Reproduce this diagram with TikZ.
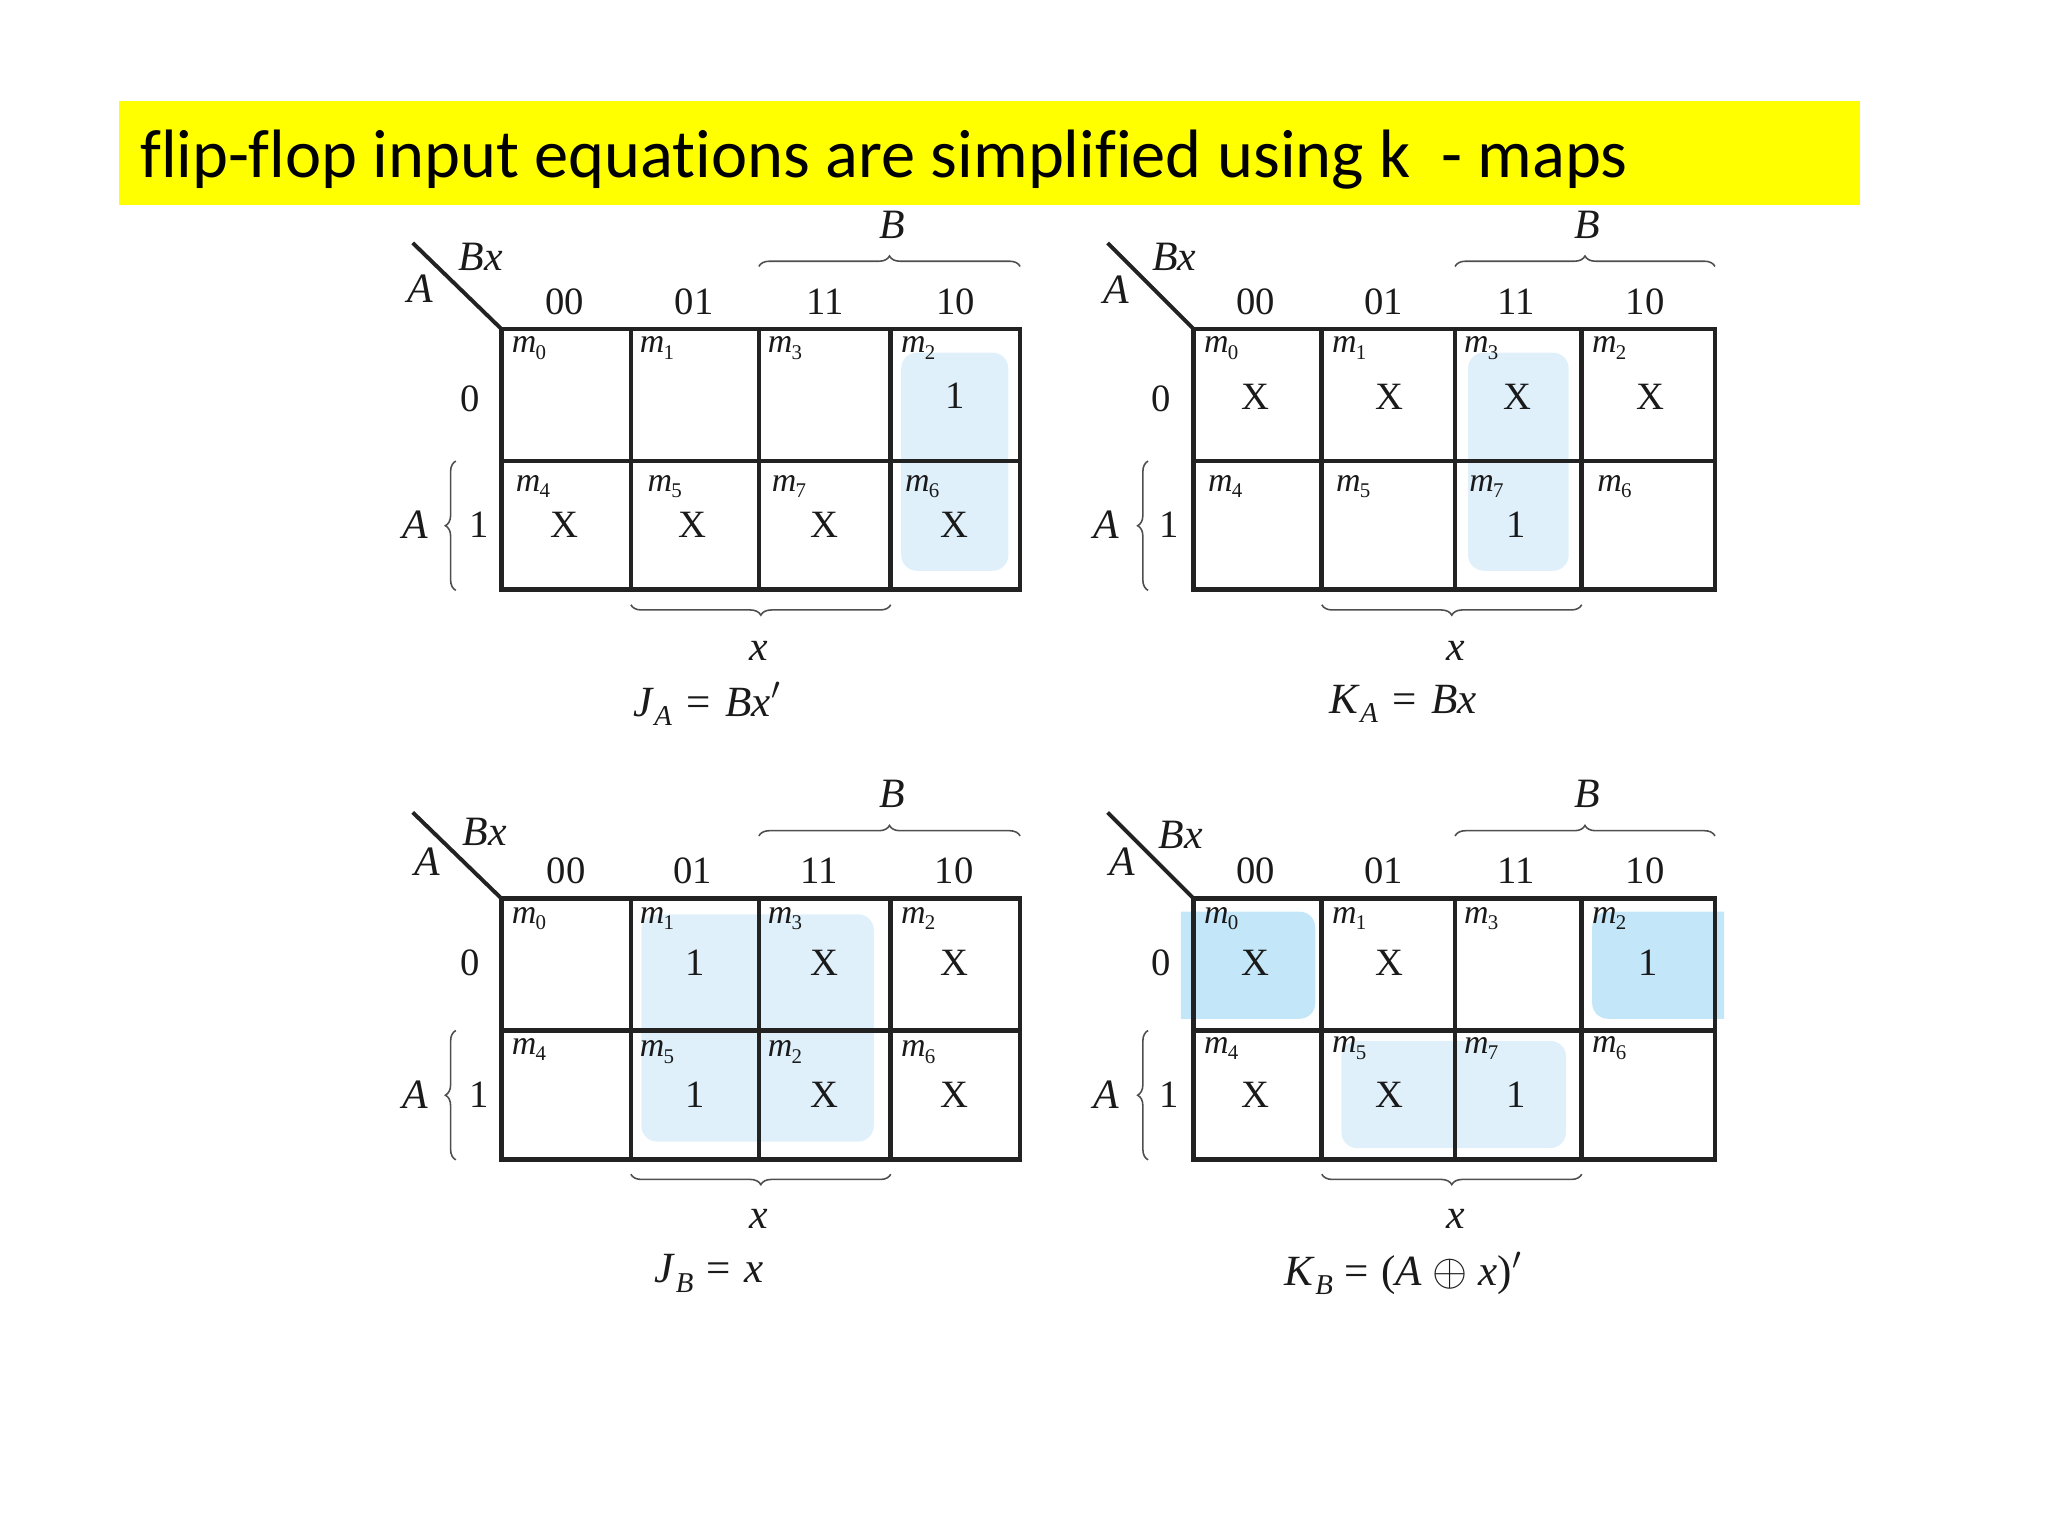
\documentclass[tikz,border=0pt]{standalone}
\usepackage{fontspec}
\setmainfont{Liberation Serif}
\newfontfamily\titlefont[Ligatures=NoCommon]{Carlito}
\usetikzlibrary{decorations.pathreplacing}
\definecolor{hlLight}{HTML}{DFF0FB}
\definecolor{hlDark}{HTML}{C3E7F9}
\definecolor{gridInk}{HTML}{222222}
\definecolor{textInk}{HTML}{1A1A1A}
\definecolor{barYellow}{HTML}{FFFF00}
\newcommand{\emm}[1]{{\itshape m}\kern-0.3pt\raisebox{-2.4pt}{\fontsize{8}{8}\selectfont #1}}
\newcommand{\lowsub}[1]{\raisebox{-3.5pt}{\fontsize{11}{11}\selectfont\itshape #1}}
\newcommand{\eqgap}{\hspace{0.09em}}
\newcommand{\kgrid}[7]{%
  \draw[gridline] (#1,#6) rectangle (#5,#6+199.5);
  \draw[gridline] (#1,#7) -- (#5,#7);
  \draw[gridline] (#2,#6) -- (#2,#6+199.5);
  \draw[gridline] (#3,#6) -- (#3,#6+199.5);
  \draw[gridline] (#4,#6) -- (#4,#6+199.5);
}
\newcommand{\kbraces}[8]{%
  \coordinate (#7tl) at (#3,#6-48);
  \coordinate (#7tr) at (#5,#6-48);
  \coordinate (#7bl) at (#2,#6+211);
  \coordinate (#7br) at (#4,#6+211);
  \coordinate (#7lt) at (#1-35,#6+101);
  \coordinate (#7lb) at (#1-35,#6+200);
  \coordinate (#7dg) at (#1-#8,#6-66);
  \coordinate (#7co) at (#1,#6);
  \draw[diagline] (#7dg) -- (#7co);
  \draw[bracelinetop] (#7tl) -- (#7tr);
  \draw[bracelinetop] (#7br) -- (#7bl);
  \draw[bracelinetop] (#7lb) -- (#7lt);
}
\tikzset{
  x=0.5pt,y=-0.5pt,
  gridline/.style={draw=gridInk,line width=1.8pt,line cap=rect},
  diagline/.style={draw=gridInk,line width=1.5pt},
  bracelinetop/.style={draw=gridInk!80,line width=0.6pt,decorate,decoration={brace,amplitude=4pt,aspect=0.5}},
  txt/.style={inner sep=0pt,text=textInk,font=\fontsize{14.8}{16}\selectfont},
  ital/.style={txt,font=\fontsize{16}{16}\selectfont\itshape},
  cellm/.style={inner sep=0pt,text=textInk,font=\fontsize{13}{13}\selectfont},
  eqn/.style={inner sep=0pt,text=textInk,font=\fontsize{16.5}{17}\selectfont},
  hlA/.style={fill=hlLight,draw=none,rounded corners=6pt},
  hlB/.style={fill=hlDark,draw=none},
}
\begin{document}
\begin{tikzpicture}
\useasboundingbox (0,0) rectangle (1568,1176);
% title bar
\fill[barYellow] (91,77) rectangle (1424,157);
\node[anchor=west,inner sep=0pt,font=\fontsize{26.2}{30}\selectfont\titlefont,text=black] (title) at (107,122) {flip-flop input equations are simplified using k\ \ - maps};
% highlights
\fill[hlA] (690,270) rectangle (772,437);
\fill[hlA] (1124,270) rectangle (1201,437);
\fill[hlA] (491,700) rectangle (669,874);
\fill[hlA] (1027,797) rectangle (1199,879);
\fill[hlB] (904,698) -- (992,698) [rounded corners=6pt] -- (1007,698) -- (1007,780) [sharp corners] -- (904,780) -- cycle;
\fill[hlB] (1320,698) -- (1235,698) [rounded corners=6pt] -- (1219,698) -- (1219,780) [sharp corners] -- (1320,780) -- cycle;
% grids
\kgrid{384}{483}{581}{682}{781}{252}{353}
\kgrid{914}{1012}{1114}{1211}{1313}{252}{353}
\kgrid{384}{483}{581}{682}{781}{688}{789}
\kgrid{914}{1012}{1114}{1211}{1313}{688}{789}
\kbraces{384}{483}{581}{682}{781}{252}{a}{68}
\kbraces{914}{1012}{1114}{1211}{1313}{252}{b}{66}
\kbraces{384}{483}{581}{682}{781}{688}{c}{68}
\kbraces{914}{1012}{1114}{1211}{1313}{688}{d}{66}
% headers and side labels
\foreach \n/\x/\y/\t in {
  a1/432.5/231/00,a2/531.5/231/01,a3/631.5/231/11,a4/731.5/231/10,a5/360/305/0,a6/366.5/402/1,
  b1/961.5/231/00,b2/1059.5/231/01,b3/1160.5/231/11,b4/1259.5/231/10,b5/889/305/0,b6/895.5/402/1,
  c1/433.5/667/00,c2/530.5/667/01,c3/627.5/667/11,c4/730.5/667/10,c5/360/737/0,c6/366.5/838/1,
  d1/961.5/667/00,d2/1059.5/667/01,d3/1160.5/667/11,d4/1259.5/667/10,d5/889/737/0,d6/895.5/838/1,
  ea/731.5/303/1,eb/432.5/402/X,ec/530.5/402/X,ed/631.5/402/X,ee/730.5/402/X,
  fa/961.5/304/X,fb/1063.5/304/X,fc/1161.5/304/X,fd/1263.5/304/X,fe/1160.5/402/1,
  ga/532.5/737/1,gb/631.5/737/X,gc/730.5/737/X,gd/532.5/838/1,ge/631.5/838/X,gf/730.5/838/X,
  ha/961.5/737/X,hb/1063.5/737/X,hc/1261.5/737/1,hd/961.5/838/X,he/1063.5/838/X,hf/1160.5/838/1}
  \node[txt] (t\n) at (\x,\y) {\t};
% italic labels
\foreach \n/\x/\y/\t in {
  a1/322/221/A,a2/368/197/Bx,a3/683/172/B,a4/318/402/A,a5/581/498/x,
  b1/855/222/A,b2/899/197/Bx,b3/1215.5/172/B,b4/847/402/A,b5/1114.5/498/x,
  c1/327.5/660/A,c2/371/637/Bx,c3/683.5/608/B,c4/318/838/A,c5/581/933/x,
  d1/859.5/660/A,d2/904/639/Bx,d3/1215.5/608/B,d4/847/838/A,d5/1114.5/933/x}
  \node[ital] (i\n) at (\x,\y) {\t};
% minterm labels
\foreach \n/\x/\y/\t in {
  a0/405/266.5/0,a1/503/266.5/1,a3/601/266.5/3,a2/703/266.5/2,a4/408/372.5/4,a5/509/372.5/5,a7/604/372.5/7,a6/706/372.5/6,
  b0/935/266.5/0,b1/1033/266.5/1,b3/1134/266.5/3,b2/1232/266.5/2,b4/938/372.5/4,b5/1036/372.5/5,b7/1138/372.5/7,b6/1236/372.5/6,
  c0/405/703.5/0,c1/503/703.5/1,c3/601/703.5/3,c2/703/703.5/2,c4/405/803.5/4,c5/503/805.5/5,c7/601/805.5/2,c6/703/805.5/6,
  d0/935/703.5/0,d1/1033/703.5/1,d3/1134/703.5/3,d2/1232/703.5/2,d4/935/802.5/4,d5/1033/802.5/5,d7/1134/802.5/7,d6/1232/802.5/6}
  \node[cellm] (m\n) at (\x,\y) {\emm{\t}};
% equations
\node[eqn] (eqa) at (541.5,539) {\textit{J}\lowsub{A}\eqgap{} = \eqgap\textit{Bx}$'$};
\node[eqn] (eqb) at (1074.5,539) {\textit{K}\lowsub{A}\eqgap{} = \eqgap\textit{Bx}};
\node[eqn] (eqc) at (543,975) {\textit{J}\lowsub{B}\kern1pt{} = \kern1pt\textit{x}};
\node[eqn] (eqd) at (1074.5,975) {\textit{K}\lowsub{B}\kern0.5pt{} = \kern0.5pt(\textit{A} $\oplus$ \textit{x})$'$};
\end{tikzpicture}
\end{document}
